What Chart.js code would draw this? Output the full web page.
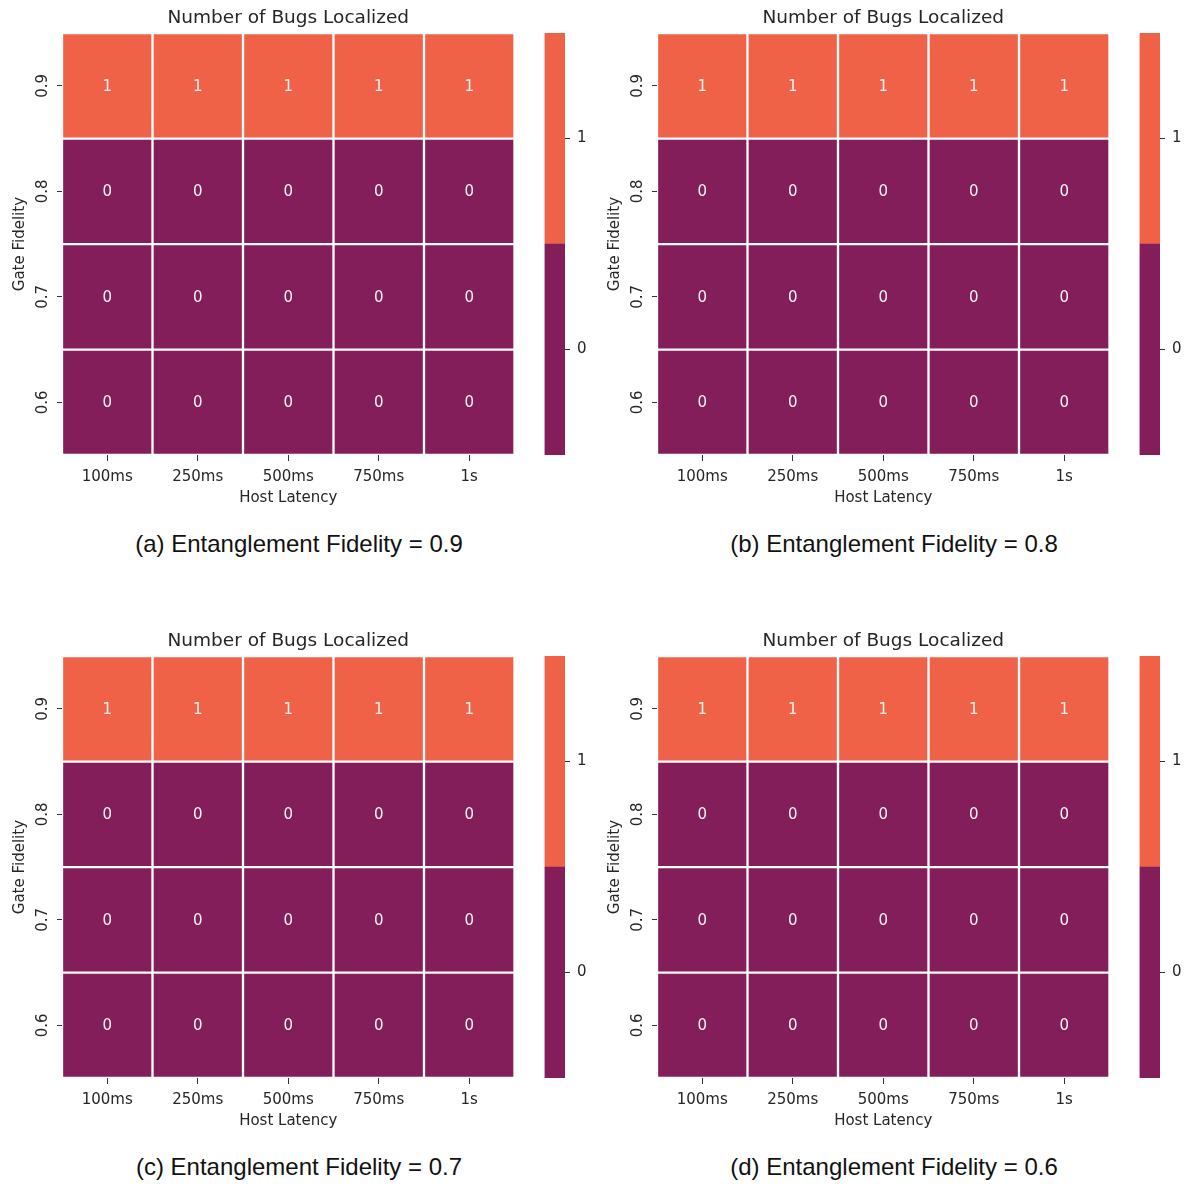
<!DOCTYPE html>
<html>
<head>
<meta charset="utf-8">
<script src="https://cdn.jsdelivr.net/npm/chart.js@4"></script>
<style>
  html, body { margin: 0; padding: 0; background: #fff; }
  #page { position: relative; width: 1195px; height: 1184px; }
  .panel { position: absolute; width: 595px; height: 623px; }
  .panel canvas { position: absolute; }
  .caption {
    position: absolute; left: 0; width: 598px; top: 530px; text-align: center;
    font-family: "Liberation Sans", Arial, sans-serif; font-size: 24px; color: #111;
  }
</style>
</head>
<body>
<div id="page"></div>
<script>
var latencies = ['100ms', '250ms', '500ms', '750ms', '1s'];
var gateFidelity = ['0.9', '0.8', '0.7', '0.6'];
var entFidelity = ['0.9', '0.8', '0.7', '0.6'];
var panelTags = ['(a)', '(b)', '(c)', '(d)'];

// bugs localized, rows = gate fidelity (0.9 at top), cols = host latency
var bugsEF09 = [[1, 1, 1, 1, 1], [0, 0, 0, 0, 0], [0, 0, 0, 0, 0], [0, 0, 0, 0, 0]];
var bugsEF08 = [[1, 1, 1, 1, 1], [0, 0, 0, 0, 0], [0, 0, 0, 0, 0], [0, 0, 0, 0, 0]];
var bugsEF07 = [[1, 1, 1, 1, 1], [0, 0, 0, 0, 0], [0, 0, 0, 0, 0], [0, 0, 0, 0, 0]];
var bugsEF06 = [[1, 1, 1, 1, 1], [0, 0, 0, 0, 0], [0, 0, 0, 0, 0], [0, 0, 0, 0, 0]];

var cbLevels = [0, 1];
var cmap = ['#831E5A', '#F06248'];

var FONT = '"DejaVu Sans", sans-serif';
var TXT = '#262626';
var panelPos = [[0, 0], [595, 0], [0, 623], [595, 623]];
var matrices = [bugsEF09, bugsEF08, bugsEF07, bugsEF06];

var annotate = {
    id: 'annotate',
    afterDatasetsDraw: function (chart) {
        var ctx = chart.ctx;
        ctx.save();
        ctx.font = '15px ' + FONT;
        ctx.fillStyle = '#f4f4f4';
        ctx.textAlign = 'center';
        ctx.textBaseline = 'middle';
        chart.data.datasets.forEach(function (ds, di) {
            chart.getDatasetMeta(di).data.forEach(function (bar, j) {
                var p = bar.getProps(['x', 'y', 'base'], true);
                ctx.fillText(String(ds.cellValues[j]), p.x, (p.y + p.base) / 2 + 1);
            });
        });
        ctx.restore();
    }
};

function makeCanvas(parent, left, w, h) {
    var c = document.createElement('canvas');
    c.style.left = left + 'px';
    c.style.top = '0px';
    c.style.width = w + 'px';
    c.style.height = h + 'px';
    c.width = w; c.height = h;
    parent.appendChild(c);
    return c;
}

matrices.forEach(function (m, pi) {
    var panel = document.createElement('div');
    panel.className = 'panel';
    panel.style.left = panelPos[pi][0] + 'px';
    panel.style.top = panelPos[pi][1] + 'px';
    document.getElementById('page').appendChild(panel);

    var nRows = gateFidelity.length;
    var datasets = m.map(function (row, r) {
        var k = nRows - 1 - r;
        return {
            data: row.map(function () { return [k, k + 1]; }),
            cellValues: row,
            backgroundColor: row.map(function (v) { return cmap[v]; }),
            borderColor: '#ffffff',
            borderWidth: 1.5,
            borderSkipped: false,
            barPercentage: 1,
            categoryPercentage: 1,
            grouped: false
        };
    });

    new Chart(makeCanvas(panel, 0, 530, 520), {
        type: 'bar',
        data: { labels: latencies, datasets: datasets },
        plugins: [annotate],
        options: {
            responsive: false,
            animation: false,
            layout: { padding: { top: 0, left: 0, right: 15.5, bottom: 0 } },
            plugins: {
                legend: { display: false },
                tooltip: { enabled: false },
                title: {
                    display: true,
                    text: 'Number of Bugs Localized',
                    fullSize: false,
                    color: TXT,
                    font: { family: FONT, size: 18.5, weight: 'normal', lineHeight: 1.2 },
                    padding: { top: 7, bottom: 4 }
                }
            },
            scales: {
                x: {
                    grid: { drawOnChartArea: false, drawTicks: true, tickLength: 6, offset: false, color: '#333' },
                    border: { display: false },
                    ticks: { color: TXT, padding: 7, font: { family: FONT, size: 15 } },
                    title: { display: true, text: 'Host Latency', color: TXT, padding: { top: 2, bottom: 13 },
                             font: { family: FONT, size: 15 } },
                    afterFit: function (s) { s.height = 65; }
                },
                y: {
                    min: 0,
                    max: nRows,
                    grid: { drawOnChartArea: false, drawTicks: true, tickLength: 5, color: '#333' },
                    border: { display: false },
                    afterBuildTicks: function (s) {
                        s.ticks = gateFidelity.map(function (g, r) { return { value: nRows - 1 - r + 0.5 }; });
                    },
                    ticks: {
                        color: TXT,
                        padding: 2,
                        minRotation: 90,
                        maxRotation: 90,
                        crossAlign: 'center',
                        font: { family: FONT, size: 15 },
                        callback: function (v) { return gateFidelity[nRows - 1 - Math.floor(v)]; }
                    },
                    title: { display: true, text: 'Gate Fidelity', color: TXT, padding: { top: 11, bottom: 0 },
                             font: { family: FONT, size: 15 } },
                    afterFit: function (s) { s.width = 62; }
                }
            }
        }
    });

    // colour bar
    new Chart(makeCanvas(panel, 540, 55, 520), {
        type: 'bar',
        data: {
            labels: [''],
            datasets: cbLevels.map(function (v) {
                return {
                    data: [[v - 0.5, v + 0.5]],
                    backgroundColor: cmap[v],
                    borderWidth: 0,
                    barPercentage: 1,
                    categoryPercentage: 1,
                    grouped: false
                };
            })
        },
        options: {
            responsive: false,
            animation: false,
            layout: { padding: { top: 33, left: 4.5, right: 0, bottom: 65 } },
            plugins: { legend: { display: false }, tooltip: { enabled: false } },
            scales: {
                x: { display: false },
                y: {
                    position: 'right',
                    min: cbLevels[0] - 0.5,
                    max: cbLevels[cbLevels.length - 1] + 0.5,
                    grid: { drawOnChartArea: false, drawTicks: true, tickLength: 5, color: '#333' },
                    border: { display: false },
                    afterBuildTicks: function (s) {
                        s.ticks = cbLevels.map(function (v) { return { value: v }; });
                    },
                    ticks: { color: TXT, padding: 7, font: { family: FONT, size: 15 } },
                    afterFit: function (s) { s.width = 30; }
                }
            }
        }
    });

    var cap = document.createElement('div');
    cap.className = 'caption';
    cap.textContent = panelTags[pi] + ' Entanglement Fidelity = ' + entFidelity[pi];
    panel.appendChild(cap);
});
</script>
</body>
</html>
